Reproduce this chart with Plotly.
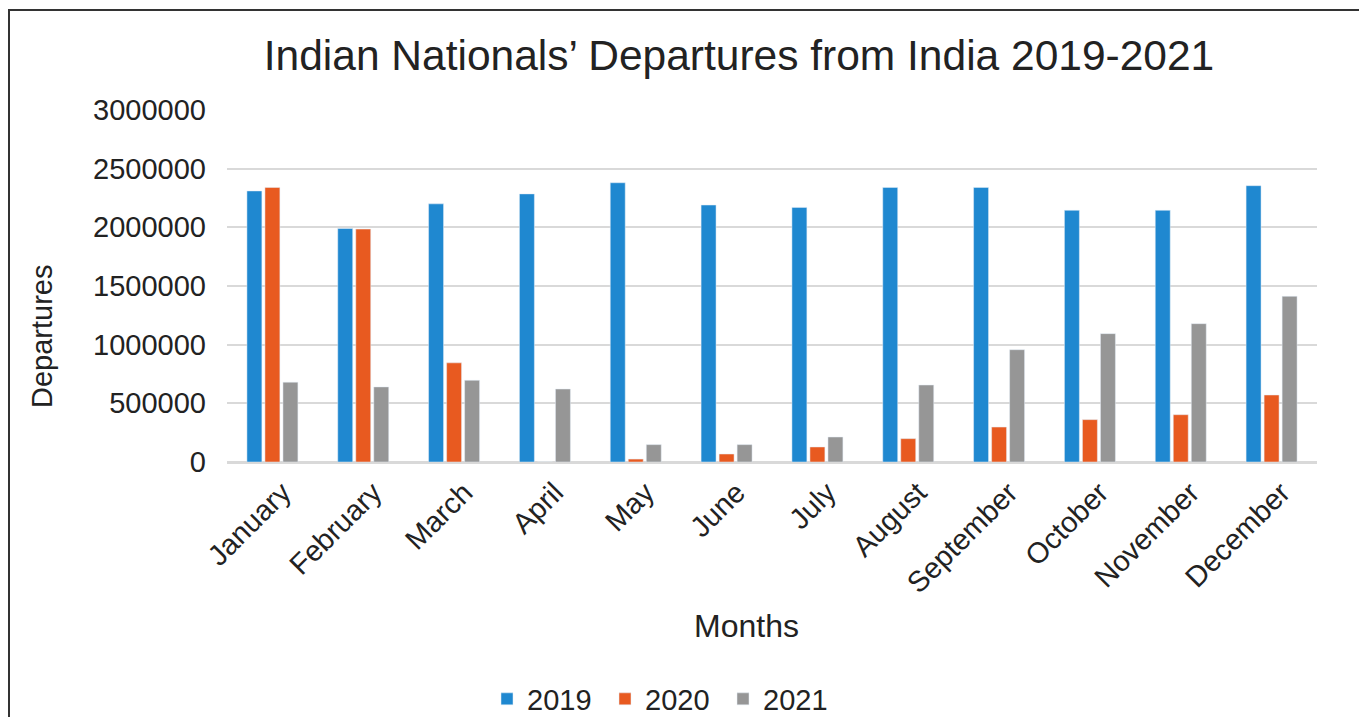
import plotly.graph_objects as go

months = ["January", "February", "March", "April", "May", "June", "July",
          "August", "September", "October", "November", "December"]
dep_2019 = [2310000, 1990000, 2200000, 2285000, 2380000, 2190000, 2170000,
            2340000, 2340000, 2145000, 2145000, 2355000]
dep_2020 = [2340000, 1985000, 845000, 0, 25000, 68000, 128000,
            199000, 298000, 361000, 403000, 571000]
dep_2021 = [680000, 640000, 696000, 622000, 148000, 148000, 213000,
            656000, 957000, 1094000, 1179000, 1412000]
y_ticks = [0, 500000, 1000000, 1500000, 2000000, 2500000, 3000000]

FONT = "Liberation Sans, Arial, sans-serif"
TXT = "#222222"

# page geometry (browser body has an 8px margin)
W, H = 1359, 709
PL, PR, PT, PB = 227, 1317, 110, 462   # plot area in page pixels
PW, PH = PR - PL, PB - PT


def px(xp):
    return (xp - PL) / PW


def py(yp):
    return (PB - yp) / PH


fig = go.Figure()
fig.add_trace(go.Bar(name="2019", x=months, y=dep_2019, marker_color="#1f88d0"))
fig.add_trace(go.Bar(name="2020", x=months, y=dep_2020, marker_color="#e85a20"))
fig.add_trace(go.Bar(name="2021", x=months, y=dep_2021, marker_color="#969696"))

fig.update_layout(
    width=W, height=H,
    margin=dict(l=PL - 8, r=W - (PR - 8), t=PT - 8, b=H - (PB - 8),
                autoexpand=False),
    paper_bgcolor="white", plot_bgcolor="white",
    font=dict(family=FONT, color=TXT, size=29),
    barmode="group", bargap=0.405, bargroupgap=0.17,
    title=dict(text="Indian Nationals’ Departures from India 2019-2021",
               x=(739 - 8) / W, xanchor="center", xref="container",
               y=1 - (55 - 8) / H, yanchor="middle", yref="container",
               font=dict(size=42.5, color=TXT, family=FONT)),
    showlegend=True,
    legend=dict(orientation="h", x=px(487), xanchor="left",
                y=py(699), yanchor="middle",
                entrywidth=73, entrywidthmode="pixels",
                font=dict(size=29, color=TXT, family=FONT),
                bgcolor="rgba(0,0,0,0)"),
    xaxis=dict(showgrid=False, showline=True, linecolor="#d9d9d9", linewidth=2,
               tickangle=-45, tickfont=dict(size=29),
               ticklabelshift=10, ticklabelstandoff=0, ticks=""),
    yaxis=dict(range=[0, 3000000], tickvals=y_ticks,
               ticktext=[str(v) for v in y_ticks],
               showgrid=True, gridcolor="#d9d9d9", gridwidth=2,
               zeroline=True, zerolinecolor="#d9d9d9", zerolinewidth=2,
               showline=False, tickfont=dict(size=29), ticks="",
               ticklabelstandoff=20),
    annotations=[
        dict(text="Months", xref="paper", yref="paper",
             x=px(746), y=py(626),
             xanchor="center", yanchor="middle", showarrow=False,
             font=dict(size=32, color=TXT, family=FONT)),
        dict(text="Departures", xref="paper", yref="paper",
             x=px(42), y=py(337), textangle=-90,
             xanchor="center", yanchor="middle", showarrow=False,
             font=dict(size=29, color=TXT, family=FONT)),
    ],
    shapes=[dict(type="rect", xref="paper", yref="paper",
                 x0=px(9), x1=px(1363),
                 y0=py(740), y1=py(10),
                 line=dict(color="#333333", width=2), layer="below")],
)

fig.write_html("out.html")
